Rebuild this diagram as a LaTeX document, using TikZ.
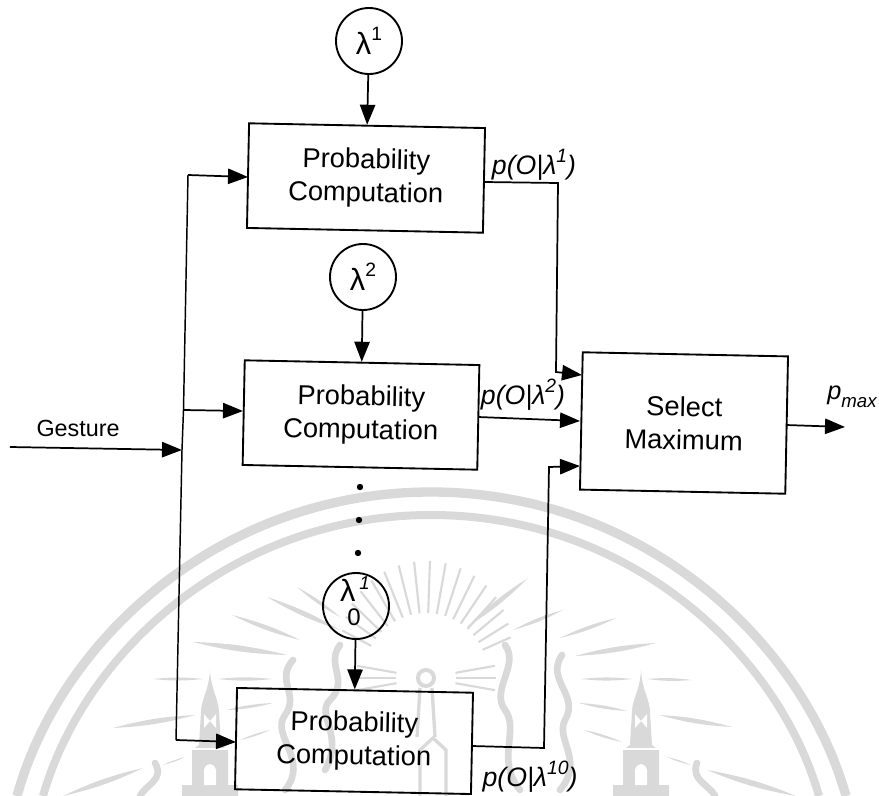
\documentclass[tikz,border=0pt]{standalone}
\usepackage{fontspec}
\setmainfont{Liberation Sans}
\usetikzlibrary{arrows.meta}
\definecolor{wm}{gray}{0.85}
\newcommand{\lam}{λ}
\newcommand{\supr}[1]{\raisebox{0.45em}{\fontsize{14.5}{14.5}\selectfont #1}}
\newcommand{\lens}[2]{\fill[wm] #1 to[bend left=6] #2 to[bend left=6] cycle;}
\tikzset{
  x=0.75pt,y=-0.75pt,
  blockbox/.style={draw,line width=1.4pt,rotate=-1.15,align=center,inner sep=0pt,font=\fontsize{20.5}{25}\selectfont},
  modelc/.style={draw,circle,line width=1.4pt,minimum size=49.5pt,inner sep=0pt,font=\fontsize{23}{23}\selectfont},
  conn/.style={line width=1.3pt,-{Triangle[length=15pt,width=11.5pt]}},
  plainl/.style={line width=1.1pt},
  lbl/.style={inner sep=0pt,font=\fontsize{20}{20}\selectfont\itshape},
  wmarc/.style={wm,line width=7pt},
  wmthin/.style={wm,line width=1.6pt},
  wmflame/.style={wm,line width=5pt,line cap=round}
}
\begin{document}
\begin{tikzpicture}
\useasboundingbox (0,0) rectangle (879,796);
\fill[white] (0,0) rectangle (879,796);
% watermark
\begin{scope}
\clip (0,0) rectangle (879,796);
\draw[wmarc] (17,796) .. controls (60,640) and (220,492) .. (431,492) .. controls (642,492) and (802,640) .. (846,796);
\draw[wm,line width=6pt] (43,796) .. controls (85,650) and (235,515) .. (431,515) .. controls (627,515) and (777,650) .. (819,796);
% fan of thin rays
\foreach \a in {24,32,...,156} \draw[wmthin] ({426+cos(\a)*62},{675-sin(\a)*62}) -- ({426+cos(\a)*(78+36*sin(\a))},{675-sin(\a)*(78+36*sin(\a))});
\foreach \a in {-10,0,10,170,180,190} \draw[wmthin] ({426+cos(\a)*30},{678-sin(\a)*30}) -- ({426+cos(\a)*70},{678-sin(\a)*70});
% tapered rays, left
\lens{(232,615)}{(300,640)}
\lens{(267,597)}{(340,630)}
\lens{(297,587)}{(340,617)}
\lens{(193,642)}{(287,655)}
\lens{(153,679)}{(203,679)}
\lens{(218,679)}{(272,679)}
\lens{(113,728)}{(195,715)}
\lens{(227,710)}{(273,703)}
\lens{(240,740)}{(270,730)}
\lens{(163,765)}{(185,757)}
\lens{(63,796)}{(143,768)}
% tapered rays, right
\lens{(528,578)}{(467,627)}
\lens{(563,610)}{(513,630)}
\lens{(616,618)}{(560,638)}
\lens{(656,643)}{(575,656)}
\lens{(581,679)}{(632,679)}
\lens{(647,679)}{(692,680)}
\lens{(579,703)}{(627,711)}
\lens{(659,715)}{(732,727)}
\lens{(584,730)}{(622,742)}
\lens{(667,757)}{(691,765)}
\lens{(707,770)}{(796,796)}
% lamp
\draw[wm,line width=3pt] (426,678) circle (8);
\draw[wm,line width=2.5pt] (420,688) -- (417,737) (432,688) -- (435,737);
\draw[wm,line width=2.5pt] (420,796) -- (420,750) -- (433,738) -- (446,750) -- (446,796);
% towers
\foreach \x in {210,641} {
  \fill[wm] (\x,670) .. controls (\x+1,690) and (\x+9,700) .. (\x+9,712) -- (\x+11,745) -- (\x+18,750) -- (\x+18,785) -- (\x+28,785) -- (\x+28,796) -- (\x-28,796) -- (\x-28,785) -- (\x-18,785) -- (\x-18,750) -- (\x-11,745) -- (\x-9,712) .. controls (\x-9,700) and (\x-1,690) .. (\x,670) -- cycle;
  \fill[white] (\x-6,714) -- (\x,721) -- (\x-6,728) -- cycle (\x+6,714) -- (\x,721) -- (\x+6,728) -- cycle;
  \fill[white] (\x-6,785) -- (\x-6,770) .. controls (\x-4,762) and (\x+4,762) .. (\x+6,770) -- (\x+6,785) -- cycle;
  \fill[white] (\x-18,748) rectangle (\x+18,750);
}
% flames
\draw[wmflame] (340,645) .. controls (325,665) and (350,680) .. (330,700) .. controls (315,715) and (345,735) .. (325,770);
\draw[wmflame] (293,660) .. controls (275,680) and (300,695) .. (285,715) .. controls (270,735) and (310,760) .. (285,790);
\draw[wmflame] (505,645) .. controls (520,665) and (490,690) .. (505,710) .. controls (520,730) and (495,760) .. (520,790);
\draw[wmflame] (562,655) .. controls (545,680) and (580,695) .. (565,720) .. controls (555,740) and (585,760) .. (560,790);
\draw[wmflame] (155,763) .. controls (165,780) and (145,785) .. (140,796);
\draw[wmflame] (697,763) .. controls (690,780) and (710,785) .. (715,796);
\end{scope}
% blocks
\node[blockbox,minimum width=177pt,minimum height=78.5pt] (b1) at (366,178) {Probability\\Computation};
\node[blockbox,minimum width=176pt,minimum height=78.5pt] (b2) at (361,415) {Probability\\Computation};
\node[blockbox,minimum width=177pt,minimum height=76pt] (b3) at (354,741) {Probability\\Computation};
\node[blockbox,minimum width=154pt,minimum height=103pt] (sel) at (684,423) {Select\\Maximum};
\node[modelc] (m1) at (369,41) {\lam\supr{1}};
\node[modelc] (m2) at (363,277) {\lam\supr{2}};
\node[modelc] (m3) at (356,606) {};
\node[inner sep=0pt,font=\fontsize{23}{23}\selectfont] (m3a) at (355,589) {\lam\hspace{3pt}\raisebox{0.4em}{\fontsize{14}{14}\selectfont\itshape 1}};
\node[inner sep=0pt,font=\fontsize{18}{18}\selectfont] (m3b) at (354,617) {0};
% dots
\fill (360,487) circle (3.2) (359,520) circle (3.2) (358,553) circle (3.2);
% named routing points
\coordinate (gs) at (10,447);
\coordinate (gj) at (182,450);
\coordinate (t1) at (188,175);
\coordinate (t2) at (183.5,410);
\coordinate (t3) at (176,740);
\coordinate (e1) at (248,177);
\coordinate (e2) at (243,411);
\coordinate (e3) at (236,742);
\coordinate (o1) at (484,182);
\coordinate (k1) at (558,183);
\coordinate (k1b) at (556,372);
\coordinate (i1) at (582,375);
\coordinate (o2) at (478,417);
\coordinate (i2) at (580,421);
\coordinate (o3) at (472,746);
\coordinate (k3a) at (544,748);
\coordinate (k3b) at (549,467);
\coordinate (i3) at (580,466);
\coordinate (so) at (786,425);
\coordinate (pm) at (845,427);
% connectors
\draw[conn] (gs) -- (gj);
\draw[plainl] (t1) -- (t2) -- (gj) -- (t3);
\draw[conn] (t1) -- (e1);
\draw[conn] (t2) -- (e2);
\draw[conn] (t3) -- (e3);
\draw[conn] (m1) -- (b1);
\draw[conn] (m2) -- (b2);
\draw[conn] (m3) -- (b3);
\draw[conn] (o1) -- (k1) -- (k1b) -- (i1);
\draw[conn] (o2) -- (i2);
\draw[conn] (o3) -- (k3a) -- (k3b) -- (i3);
\draw[conn] (so) -- (pm);
% labels
\node[inner sep=0pt,font=\fontsize{17.5}{17.5}\selectfont] (g) at (78,428) {Gesture};
\node[lbl] (l1) at (534,165) {p(O|\lam\supr{\itshape 1})};
\node[lbl] (l2) at (523,395) {p(O|\lam\supr{\itshape 2})};
\node[lbl] (l3) at (530,777) {p(O|\lam\supr{\itshape 10})};
\node[inner sep=0pt,font=\fontsize{19}{19}\selectfont\itshape] (l4) at (852,397) {p\raisebox{-0.3em}{\fontsize{14}{14}\selectfont max}};
\end{tikzpicture}
\end{document}
